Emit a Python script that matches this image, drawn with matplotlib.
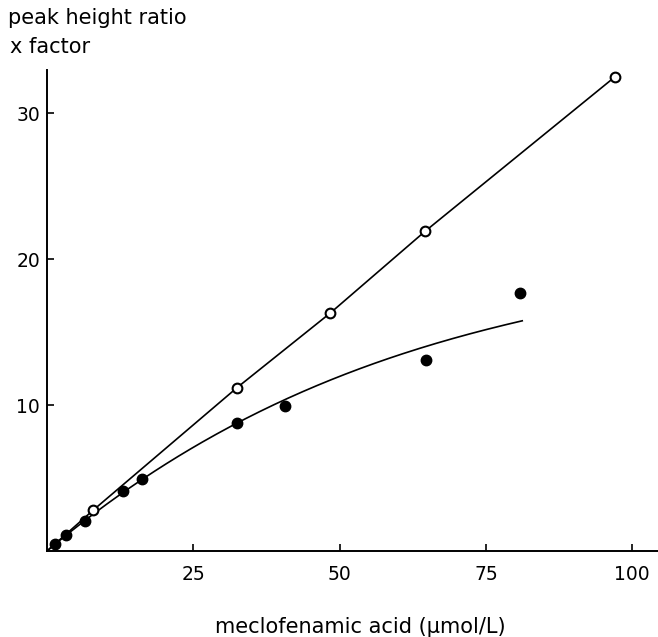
"""
Calibration plot: peak height ratio x factor vs meclofenamic acid concentration
"""

import numpy as np
import matplotlib
matplotlib.use('Agg')
import matplotlib.pyplot as plt

# ----data-----------------------------
open_x = [7.9, 32.5, 48.4, 64.6, 97.1]
open_y = [2.8, 11.2, 16.3, 21.9, 32.5]

filled_x = [1.4, 3.2, 6.5, 13.0, 16.2, 32.5, 40.7, 64.7, 80.9]
filled_y = [0.48, 1.1, 2.05, 4.1, 4.93, 8.75, 9.93, 13.1, 17.7]

# points for the filled series
curve_x = [0, 6.5, 13.0, 16.2, 25.6, 32.5, 40.7, 48.4, 60.3, 64.6, 74.6, 81.2]
curve_y = [0, 2.05, 4.1, 4.95, 7.1, 8.75, 10.45, 11.7, 13.5, 13.97, 15.07, 15.8]

x_ticks = [25, 50, 75, 100]
y_ticks = [10, 20, 30]


def main():
    plt.rcParams['font.family'] = ['DejaVu Sans']
    plt.rcParams['xtick.direction'] = 'in'
    plt.rcParams['ytick.direction'] = 'in'

    fig = plt.figure(figsize=(6.58, 6.37), dpi=100)
    ax = fig.add_axes([47 / 658, 86 / 637, 611 / 658, 481 / 637])

    # open series: straight segments from the origin
    ax.plot([0] + open_x, [0] + open_y, color='black', linewidth=1.2, zorder=1)

    # filled series: smooth curve through the traced points
    coef = np.polyfit(curve_x, curve_y, 3)
    xs = np.linspace(0, curve_x[-1], 200)
    ax.plot(xs, np.polyval(coef, xs), color='black', linewidth=1.2, zorder=1)

    ax.plot(filled_x, filled_y, linestyle='none', marker='o', markersize=7.5,
            color='black', zorder=3)
    ax.plot(open_x, open_y, linestyle='none', marker='o', markersize=7,
            markerfacecolor='white', markeredgecolor='black',
            markeredgewidth=1.5, zorder=3)

    ax.set_xlim(0, 104.4)
    ax.set_ylim(0, 32.95)
    ax.set_xticks(x_ticks)
    ax.set_yticks(y_ticks)
    ax.tick_params(axis='x', length=5, width=1.2, pad=10, labelsize=13.5)
    ax.tick_params(axis='y', length=5, width=1.2, pad=5, labelsize=13.5)

    for side in ['top', 'right']:
        ax.spines[side].set_visible(False)
    for side in ['left', 'bottom']:
        ax.spines[side].set_linewidth(1.4)

    fig.text(8 / 658, 1 - 18 / 637, 'peak height ratio', fontsize=15,
             ha='left', va='center')
    fig.text(10 / 658, 1 - 47 / 637, 'x factor', fontsize=15,
             ha='left', va='center')
    fig.text(360 / 658, 1 - 627 / 637, 'meclofenamic acid (μmol/L)',
             fontsize=15, ha='center', va='center')

    plt.savefig('out.png', dpi=100)
    plt.close()


if __name__ == '__main__':
    main()
